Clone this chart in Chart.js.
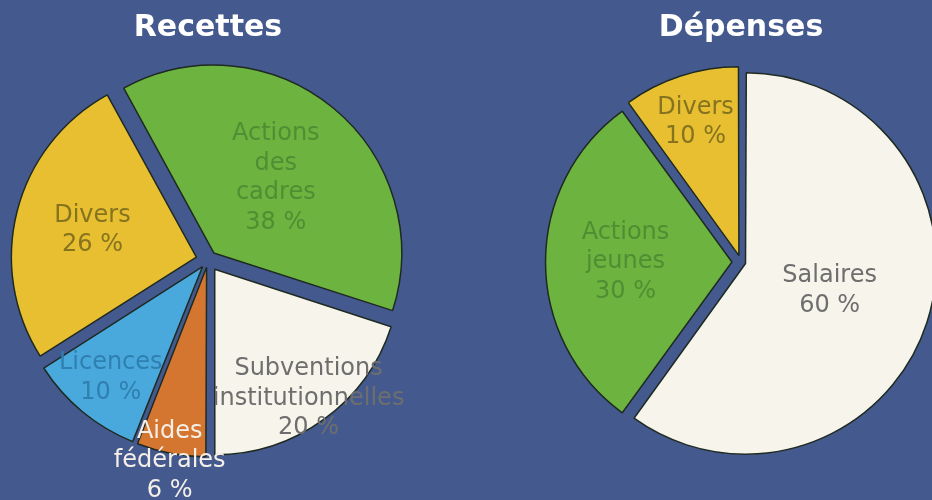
<!DOCTYPE html>
<html>
<head>
<meta charset="utf-8">
<script src="https://cdn.jsdelivr.net/npm/chart.js@4/dist/chart.umd.min.js"></script>
<style>
  html, body { margin: 0; padding: 0; background: #445a8e; }
  #wrap { position: relative; width: 932px; height: 500px; overflow: hidden; background: #445a8e; }
  .box { position: absolute; top: 0; height: 500px; }
</style>
</head>
<body>
<div id="wrap">
  <div class="box" style="left:0;width:416px;"><canvas id="c1"></canvas></div>
  <div class="box" style="left:466px;width:466px;"><canvas id="c2"></canvas></div>
</div>
<script>
// ---- Data ----
const recettesTitle = 'Recettes';
const recettesLabels = [['Aides', 'fédérales'], ['Licences'], ['Divers'], ['Actions', 'des', 'cadres'], ['Subventions', 'institutionnelles']];
const recettesValues = [6, 10, 26, 38, 20];

const depensesTitle = 'Dépenses';
const depensesLabels = [['Salaires'], ['Actions', 'jeunes'], ['Divers']];
const depensesValues = [60, 30, 10];

// ---- Styles ----
const FILL = {
  yellow: '#e8bf30', green: '#6db33f', blue: '#4aa9dc', orange: '#d4762f', cream: '#f6f4eb'
};
const TEXT = {
  yellow: '#85731f', green: '#4f8e33', blue: '#2f7fb0', orange: '#f5efe8', cream: '#6e6e6e'
};
const recettesColorKeys = ['orange', 'blue', 'yellow', 'green', 'cream'];
const depensesColorKeys = ['cream', 'green', 'yellow'];

// Chart.js arcs translate by offset/4 * (1 + fix); return the option value that gives
// a uniform explode distance of `dist` pixels for every slice.
function uniformOffset(dist) {
  return (c) => {
    const data = c.dataset.data;
    const total = data.reduce((a, b) => a + b, 0);
    const circ = data[c.dataIndex] / total * Math.PI * 2;
    const fix = 1 - Math.sin(Math.min(Math.PI, circ));
    return 4 * dist / (1 + fix);
  };
}

const labelPlugin = {
  id: 'sliceLabels',
  afterDatasetsDraw(chart, args, opts) {
    const ctx = chart.ctx;
    const meta = chart.getDatasetMeta(0);
    const ds = chart.data.datasets[0];
    const total = ds.data.reduce((a, b) => a + b, 0);
    ctx.save();
    ctx.font = '24px "DejaVu Sans", Verdana, sans-serif';
    ctx.textAlign = 'center';
    ctx.textBaseline = 'middle';
    meta.data.forEach((arc, i) => {
      const p = arc.getProps(['x', 'y', 'startAngle', 'endAngle', 'outerRadius'], true);
      const mid = (p.startAngle + p.endAngle) / 2;
      const d = opts.explode + p.outerRadius * opts.factors[i];
      const cx = p.x + Math.cos(mid) * d;
      const cy = p.y + Math.sin(mid) * d;
      const lines = chart.data.labels[i].concat([Math.round(ds.data[i] / total * 100) + ' %']);
      const lh = 29.5;
      const y0 = cy - (lines.length - 1) * lh / 2;
      ctx.fillStyle = opts.colors[i];
      lines.forEach((t, k) => ctx.fillText(t, cx, y0 + k * lh));
    });
    ctx.restore();
  }
};

function makePie(id, title, labels, values, keys, rotation, radius, explode, pad, factors) {
  return new Chart(document.getElementById(id), {
    type: 'pie',
    data: {
      labels: labels,
      datasets: [{
        data: values,
        backgroundColor: keys.map(k => FILL[k]),
        borderColor: '#1f2a22',
        borderWidth: 1.5,
        offset: uniformOffset(explode),
        clip: false
      }]
    },
    options: {
      responsive: true,
      maintainAspectRatio: false,
      animation: false,
      rotation: rotation,
      radius: radius,
      layout: { padding: pad },
      events: [],
      plugins: {
        legend: { display: false },
        tooltip: { enabled: false },
        title: {
          display: true,
          text: title,
          color: '#ffffff',
          font: { family: '"DejaVu Sans", Verdana, sans-serif', size: 30, weight: 'bold' },
          padding: { top: 10, bottom: 0 }
        },
        sliceLabels: { factors: factors, explode: explode, colors: keys.map(k => TEXT[k]) }
      }
    },
    plugins: [labelPlugin]
  });
}

makePie('c1', recettesTitle, recettesLabels, recettesValues, recettesColorKeys, 180, 185, 12,
  { left: 0, right: 0, top: 0, bottom: 26 }, [1.04, 0.76, 0.58, 0.51, 0.86]);
makePie('c2', depensesTitle, depensesLabels, depensesValues, depensesColorKeys, 0, 186, 9.5,
  { left: 84, right: 0, top: 0, bottom: 22 }, [0.45, 0.57, 0.74]);
</script>
</body>
</html>
